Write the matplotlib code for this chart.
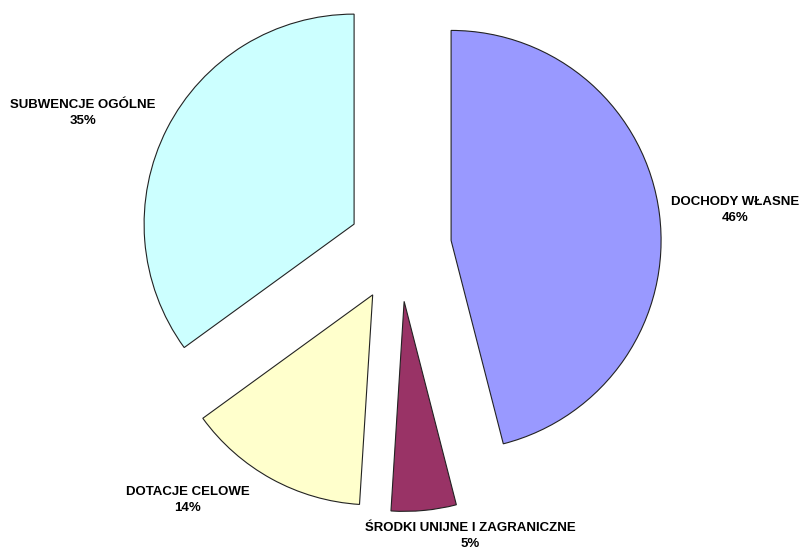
import matplotlib
matplotlib.use("Agg")
import matplotlib.pyplot as plt

# Data (clockwise from 12 o'clock)
labels = ["DOCHODY WŁASNE", "ŚRODKI UNIJNE I ZAGRANICZNE", "DOTACJE CELOWE", "SUBWENCJE OGÓLNE"]
shares = [46, 5, 14, 35]
colors = ["#9999FF", "#993366", "#FFFFCC", "#CCFFFF"]
explode = [0.25, 0.26, 0.26, 0.24]

# label positions in figure pixels (centre of text block, from top-left)
label_px = [(735, 210), (470, 536), (188, 500), (83, 113)]

W, H = 803, 552
R = 210.0
cx, cy = 399, 247

fig = plt.figure(figsize=(W / 100, H / 100), dpi=100)
ax = fig.add_axes([0, 0, 1, 1])
ax.pie(shares, colors=colors, explode=explode, startangle=90, counterclock=False,
       radius=1.0, wedgeprops=dict(edgecolor="#222222", linewidth=0.8))
ax.set_xlim(-cx / R, (W - cx) / R)
ax.set_ylim(-(H - cy) / R, cy / R)
ax.set_aspect("equal")
ax.axis("off")

for lab, s, (px, py) in zip(labels, shares, label_px):
    fig.text(px / W, 1 - py / H, f"{lab}\n{s}%", ha="center", va="center",
             fontsize=9.5, fontweight="bold", family="Liberation Sans",
             linespacing=1.45)

fig.savefig("out.png", dpi=100)
